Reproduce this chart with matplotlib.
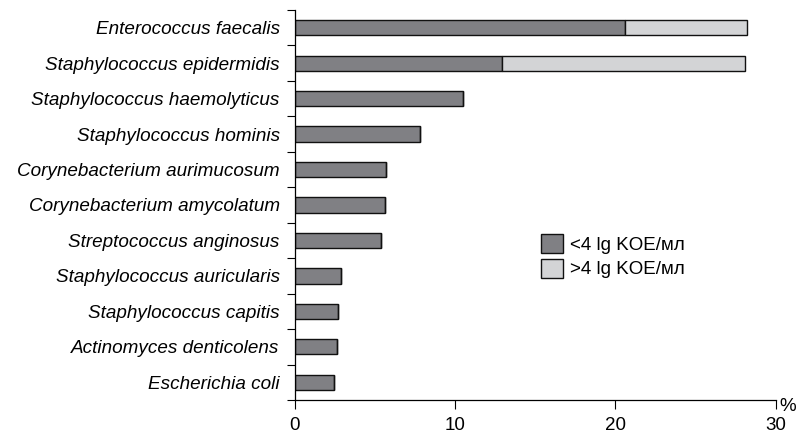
import numpy as np
import matplotlib
matplotlib.use("Agg")
import matplotlib.pyplot as plt
from matplotlib.patches import Patch

# 数据（从上到下）
species = [
    "Enterococcus faecalis",
    "Staphylococcus epidermidis",
    "Staphylococcus haemolyticus",
    "Staphylococcus hominis",
    "Corynebacterium aurimucosum",
    "Corynebacterium amycolatum",
    "Streptococcus anginosus",
    "Staphylococcus auricularis",
    "Staphylococcus capitis",
    "Actinomyces denticolens",
    "Escherichia coli",
]
low_vals = [20.6, 12.9, 10.5, 7.8, 5.7, 5.6, 5.4, 2.9, 2.7, 2.65, 2.45]
high_vals = [7.6, 15.2, 0, 0, 0, 0, 0, 0, 0, 0, 0]
legend_labels = ["<4 lg KOE/мл", ">4 lg KOE/мл"]
x_ticks = [0, 10, 20, 30]

dark = "#808084"
light = "#d3d4d6"
edge = "#111111"
fs = 13.5

plt.rcParams['font.family'] = ['Liberation Sans', 'DejaVu Sans']

fig = plt.figure(figsize=(8.01, 4.33), dpi=100)
ax = fig.add_axes([0.368, 0.0762, 0.6005, 0.9008])

y = np.arange(len(species))
ax.barh(y, low_vals, height=0.43, color=dark, edgecolor=edge, linewidth=1)
ax.barh(y, high_vals, left=low_vals, height=0.43, color=light, edgecolor=edge, linewidth=1)

ax.set_ylim(len(species) - 0.5, -0.5)
ax.set_xlim(0, 30)

# 类别标签放在中间，刻度线放在分隔处
ax.set_yticks(y)
ax.set_yticklabels(species, style="italic", fontsize=13.6)
ax.tick_params(axis="y", which="major", length=0, pad=10.8)
ax.set_yticks(np.arange(-0.5, len(species) + 0.5, 1), minor=True)
ax.tick_params(axis="y", which="minor", length=5.8, width=0.8)

ax.set_xticks(x_ticks)
ax.tick_params(axis="x", length=6.5, width=0.8, labelsize=fs, pad=5.5)

for s in ["top", "right"]:
    ax.spines[s].set_visible(False)
for s in ["left", "bottom"]:
    ax.spines[s].set_linewidth(0.9)

ax.text(1.007, 0.006, "%", transform=ax.transAxes, fontsize=fs, ha="left", va="top")

handles = [Patch(facecolor=dark, edgecolor=edge, linewidth=1),
           Patch(facecolor=light, edgecolor=edge, linewidth=1)]
ax.legend(handles, legend_labels, loc="upper left", bbox_to_anchor=(0.512, 0.426),
          frameon=False, fontsize=fs, handlelength=1.17, handleheight=1.17,
          labelspacing=0.27, handletextpad=0.37, borderpad=0, borderaxespad=0)

fig.savefig("out.png", dpi=100)
